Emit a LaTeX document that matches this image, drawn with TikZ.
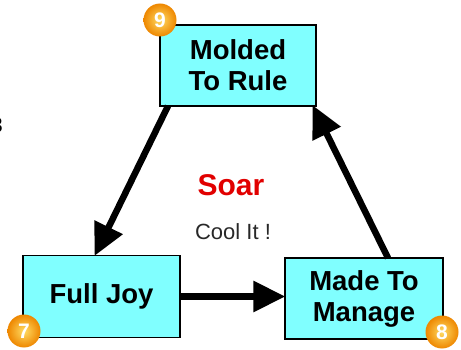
\documentclass[tikz,border=0pt]{standalone}
\usepackage{fontspec}
\setmainfont{Liberation Sans}
\usetikzlibrary{arrows.meta}
\definecolor{boxfill}{RGB}{128,255,255}
\definecolor{soarred}{RGB}{225,0,0}
\definecolor{coolgray}{RGB}{40,40,40}
\definecolor{ballin}{RGB}{255,220,100}
\definecolor{ballout}{RGB}{238,135,0}
\tikzset{
  box/.style={draw=black, line width=1.5pt, fill=boxfill, inner sep=0pt, align=center,
    font=\fontsize{27.5}{31}\selectfont\bfseries},
  badge/.style={circle, minimum size=33pt, inner sep=0pt, shading=radial,
    inner color=ballin, outer color=ballout, text=white,
    font=\fontsize{21}{21}\selectfont\bfseries},
  flow/.style={line width=6.5pt, -{Triangle[length=32pt,width=30pt]}, shorten >=-1pt}
}
\begin{document}
\begin{tikzpicture}[x=1pt,y=-1pt]
\useasboundingbox (0,0) rectangle (461,350);
\node[box, minimum width=156pt, minimum height=81pt] (molded) at (238,65.5) {Molded\\To Rule};
\node[box, minimum width=157pt, minimum height=82pt] (joy) at (101.5,296.5) {Full Joy};
\node[box, minimum width=158pt, minimum height=81pt] (manage) at (364,298.5) {Made To\\Manage};
\node[badge] (b9) at (160,20) {9};
\node[badge] (b7) at (24,331) {7};
\node[badge] (b8) at (442,332) {8};
\node[text=soarred, font=\fontsize{30}{30}\selectfont\bfseries] (soar) at (231,185) {Soar};
\node[text=coolgray, font=\fontsize{22}{22}\selectfont] (cool) at (233,232) {Cool It !};
\node[anchor=east, inner sep=0pt, font=\fontsize{21}{21}\selectfont] (cut) at (3,125) {3};
\coordinate (a1s) at (168,106);
\coordinate (a1e) at (95,255);
\coordinate (a3s) at (388,258);
\coordinate (a3e) at (313,106);
\draw[flow] (a1s) -- (a1e);
\draw[flow] (joy.east) -- (joy.east -| manage.west);
\draw[flow] (a3s) -- (a3e);
\end{tikzpicture}
\end{document}
